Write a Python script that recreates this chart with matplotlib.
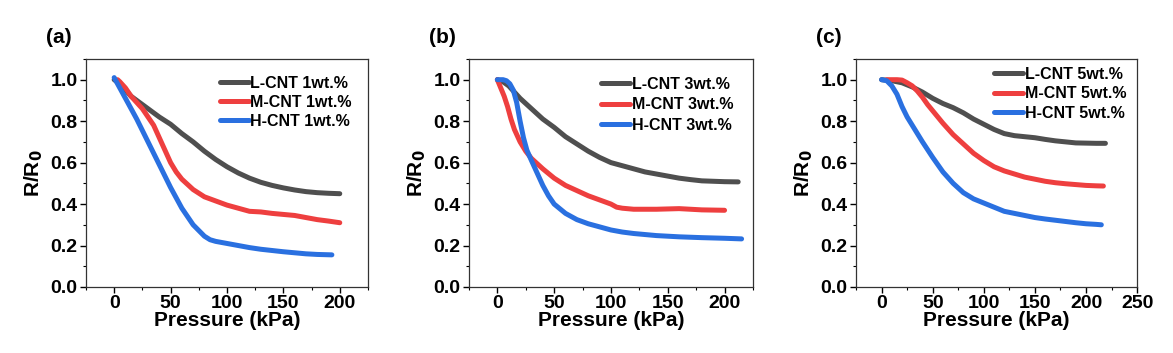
import matplotlib
matplotlib.use("Agg")
import matplotlib.pyplot as plt
from matplotlib.ticker import MultipleLocator

plt.rcParams["font.family"] = ["Liberation Sans", "DejaVu Sans"]
plt.rcParams["font.weight"] = "bold"

# ---- data ----
# (a) 1 wt.%
L1_x = [0, 5, 10, 15, 20, 30, 40, 50, 60, 70, 80, 90, 100, 110, 120, 130, 140, 150, 160, 170, 180, 190, 200]
L1_y = [1.0, 0.98, 0.95, 0.92, 0.90, 0.86, 0.82, 0.785, 0.74, 0.70, 0.655, 0.615, 0.58, 0.55, 0.525, 0.505,
        0.49, 0.478, 0.468, 0.46, 0.455, 0.452, 0.45]
M1_x = [3, 5, 10, 15, 20, 25, 30, 35, 40, 45, 50, 55, 60, 70, 80, 90, 100, 110, 120, 130, 140, 150, 160, 170,
        180, 190, 200]
M1_y = [1.0, 0.99, 0.96, 0.92, 0.89, 0.86, 0.82, 0.78, 0.72, 0.66, 0.60, 0.555, 0.52, 0.47, 0.435, 0.415,
        0.395, 0.38, 0.365, 0.362, 0.355, 0.35, 0.345, 0.335, 0.325, 0.318, 0.31]
H1_x = [0, 10, 20, 30, 40, 50, 60, 70, 80, 85, 90, 100, 110, 120, 130, 140, 150, 160, 170, 180, 193]
H1_y = [1.01, 0.91, 0.81, 0.70, 0.59, 0.48, 0.38, 0.30, 0.245, 0.228, 0.22, 0.21, 0.2, 0.19, 0.182, 0.176,
        0.17, 0.165, 0.16, 0.157, 0.155]

# (b) 3 wt.%
L3_x = [0, 5, 10, 15, 20, 30, 40, 50, 60, 70, 80, 90, 100, 110, 120, 130, 140, 150, 160, 170, 180, 190, 200, 212]
L3_y = [1.0, 0.99, 0.97, 0.94, 0.91, 0.86, 0.81, 0.77, 0.725, 0.69, 0.655, 0.625, 0.60, 0.585, 0.57, 0.555,
        0.545, 0.535, 0.525, 0.518, 0.512, 0.51, 0.508, 0.507]
M3_x = [0, 3, 6, 9, 12, 15, 20, 25, 30, 35, 40, 50, 60, 70, 80, 90, 100, 105, 110, 120, 140, 160, 180, 200]
M3_y = [1.0, 0.96, 0.92, 0.87, 0.81, 0.76, 0.70, 0.655, 0.62, 0.595, 0.57, 0.525, 0.49, 0.465, 0.44, 0.42,
        0.40, 0.385, 0.38, 0.375, 0.375, 0.378, 0.372, 0.37]
H3_x = [0, 5, 8, 11, 14, 17, 20, 23, 26, 30, 35, 40, 45, 50, 60, 70, 80, 90, 100, 110, 120, 140, 160, 180,
        200, 215]
H3_y = [1.0, 1.0, 0.995, 0.98, 0.95, 0.89, 0.80, 0.72, 0.66, 0.61, 0.55, 0.49, 0.44, 0.40, 0.355, 0.325,
        0.305, 0.29, 0.275, 0.265, 0.258, 0.248, 0.242, 0.238, 0.235, 0.232]

# (c) 5 wt.%
L5_x = [0, 10, 20, 30, 40, 50, 60, 70, 80, 90, 100, 110, 120, 130, 140, 150, 160, 170, 180, 190, 200, 210, 219]
L5_y = [1.0, 0.995, 0.985, 0.965, 0.94, 0.91, 0.885, 0.865, 0.84, 0.81, 0.785, 0.76, 0.74, 0.73, 0.725, 0.72,
        0.712, 0.705, 0.70, 0.695, 0.694, 0.693, 0.693]
M5_x = [5, 10, 15, 20, 25, 30, 35, 40, 45, 50, 60, 70, 80, 90, 100, 110, 120, 130, 140, 150, 160, 170, 180,
        190, 200, 210, 217]
M5_y = [1.0, 1.0, 1.0, 0.998, 0.985, 0.97, 0.945, 0.915, 0.88, 0.85, 0.79, 0.735, 0.69, 0.645, 0.61, 0.58,
        0.56, 0.545, 0.53, 0.52, 0.51, 0.503, 0.498, 0.494, 0.49, 0.488, 0.487]
H5_x = [0, 5, 10, 15, 20, 25, 30, 40, 50, 60, 70, 80, 90, 100, 110, 120, 130, 140, 150, 160, 170, 180, 190,
        200, 210, 215]
H5_y = [1.0, 0.995, 0.97, 0.93, 0.87, 0.82, 0.78, 0.70, 0.625, 0.555, 0.50, 0.455, 0.425, 0.405, 0.385,
        0.365, 0.355, 0.345, 0.335, 0.328, 0.322, 0.316, 0.31, 0.305, 0.302, 0.30]

panels = [
    ("(a)", "1wt.%", [(L1_x, L1_y), (M1_x, M1_y), (H1_x, H1_y)], 225, [0, 50, 100, 150, 200]),
    ("(b)", "3wt.%", [(L3_x, L3_y), (M3_x, M3_y), (H3_x, H3_y)], 225, [0, 50, 100, 150, 200]),
    ("(c)", "5wt.%", [(L5_x, L5_y), (M5_x, M5_y), (H5_x, H5_y)], 250, [0, 50, 100, 150, 200, 250]),
]
names = ["L-CNT", "M-CNT", "H-CNT"]
colors = ["#4f4f4f", "#ee3f3f", "#2a70e0"]

fig = plt.figure(figsize=(11.73, 3.53), dpi=100)
lefts = [0.0733, 0.3998, 0.7298]
widths = [0.2404, 0.2421, 0.2396]
leg_anchor = [(0.943, 0.925), (0.93, 0.921), (0.961, 0.965)]
leg_spacing = [0.25, 0.33, 0.28]

for (tag, wt, series, xmax, xticks), left, w, anc, sp in zip(panels, lefts, widths, leg_anchor, leg_spacing):
    ax = fig.add_axes([left, 0.187, w, 0.646])
    for (x, y), name, c in zip(series, names, colors):
        ax.plot(x, y, color=c, lw=3.6, label=f"{name} {wt}", solid_capstyle="round")
    ax.set_xlim(-25, xmax)
    ax.set_ylim(0, 1.1)
    ax.set_xticks(xticks)
    ax.set_yticks([0.0, 0.2, 0.4, 0.6, 0.8, 1.0])
    ax.xaxis.set_minor_locator(MultipleLocator(25))
    ax.yaxis.set_minor_locator(MultipleLocator(0.1))
    ax.tick_params(which="major", direction="out", length=4, width=1, labelsize=14, pad=2)
    ax.tick_params(which="minor", direction="out", length=2.5, width=0.8)
    for s in ax.spines.values():
        s.set_linewidth(0.9)
        s.set_color("#333333")
    for lab in ax.get_xticklabels() + ax.get_yticklabels():
        lab.set_fontweight("bold")
    ax.set_xlabel("Pressure (kPa)", fontsize=15, fontweight="bold", labelpad=-1)
    ax.set_ylabel("R/R$_\\mathbf{0}$", fontsize=15, fontweight="bold", labelpad=4)
    ax.legend(loc="upper right", bbox_to_anchor=anc, frameon=False, handlelength=1.8, handletextpad=0.1,
              labelspacing=sp, borderaxespad=0, borderpad=0, prop={"weight": "bold", "size": 11.5})
    fig.text(left - 0.034, 0.895, tag, fontsize=15, fontweight="bold", ha="left", va="center")

fig.savefig("out.png", dpi=100)
